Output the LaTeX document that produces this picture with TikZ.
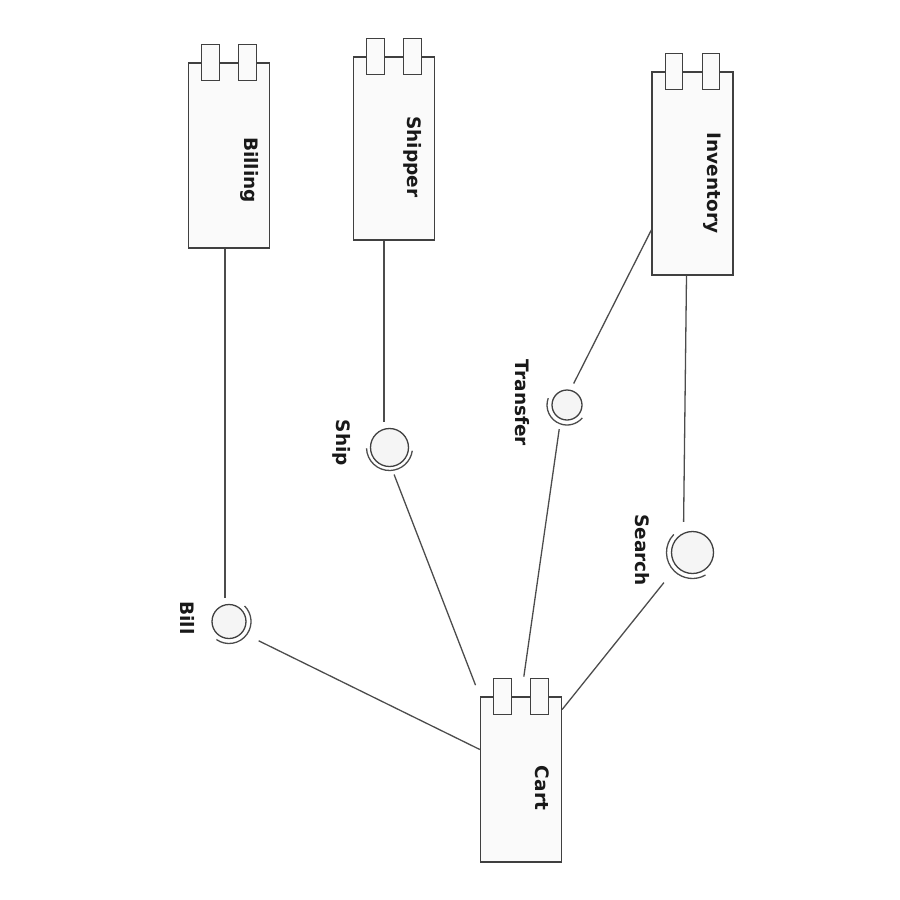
\documentclass[tikz,border=0pt]{standalone}
\usepackage{fontspec}
\setmainfont{DejaVu Sans}

\begin{document}
\begin{tikzpicture}[x=1pt, y=-1pt,
  font=\fontsize{18.5}{22}\selectfont\bfseries,
  wire/.style={black!70, line width=1.3pt},
  comp/.style={draw=black!75, line width=1.3pt, fill=black!2, rectangle, minimum width=81pt, inner sep=0pt},
  tab/.style={draw=black!75, line width=1.3pt, fill=black!2, rectangle, minimum width=17.5pt, minimum height=36pt, inner sep=0pt},
  ball/.style={draw=black!75, line width=1.3pt, fill=black!4, circle, inner sep=0pt},
  txt/.style={rotate=-90, inner sep=0pt, text=black!90}
]
\useasboundingbox (0,0) rectangle (900,900);

% components
\node[comp, minimum height=185pt] (billing) at (229,155.5) {};
\node[comp, minimum height=183pt] (shipper) at (394,148.5) {};
\node[comp, minimum height=203pt] (inventory) at (692.5,173.5) {};
\node[comp, minimum height=165pt] (cart) at (521,779.5) {};

% tabs
\foreach \c in {billing, shipper, inventory, cart} {
  \node[tab] (\c-tab1) at ([xshift=-18.5pt]\c.north) {};
  \node[tab] (\c-tab2) at ([xshift=18.5pt]\c.north) {};
}

\node[txt] (billingtxt) at (250,170) {Billing};
\node[txt] (shippertxt) at (413,157) {Shipper};
\node[txt] (inventorytxt) at (712,183) {Inventory};
\node[txt] (carttxt) at (542,788) {Cart};

% interfaces
\node[ball, minimum size=34pt] (bill) at (229,621.5) {};
\node[ball, minimum size=38pt] (ship) at (389.5,447.5) {};
\node[ball, minimum size=30pt] (transfer) at (567,405) {};
\node[ball, minimum size=42pt] (search) at (692.5,552.5) {};

% sockets
\draw[wire] (bill.center) ++(235:22pt) arc[start angle=235, end angle=405, radius=22pt];
\draw[wire] (ship.center) ++(182:23pt) arc[start angle=182, end angle=352, radius=23pt];
\draw[wire] (transfer.center) ++(160:20pt) arc[start angle=160, end angle=320, radius=20pt];
\draw[wire] (search.center) ++(136:26pt) arc[start angle=136, end angle=300, radius=26pt];

\node[txt] (billlbl) at (188,618) {Bill};
\node[txt] (shiplbl) at (342,443) {Ship};
\node[txt] (transferlbl) at (522,403) {Transfer};
\node[txt] (searchlbl) at (642,550) {Search};

% wires
\draw[wire, shorten >=6pt] ([xshift=-4pt]billing.south) -- ([xshift=-4pt]bill.north);
\draw[wire, shorten <=18pt] (bill.-40) -- ([yshift=30pt]cart.west);
\draw[wire, shorten >=6pt] ([xshift=-10pt]shipper.south) -- ([xshift=-5.5pt]ship.north);
\draw[wire, shorten <=8pt, shorten >=12pt] (ship.-85) -- (cart.north west);
\draw[wire, shorten >=7pt] ([yshift=-56.5pt]inventory.west) -- (transfer.77);
\draw[wire, shorten <=10pt, shorten >=20pt] (transfer.246) -- (cart.north);
\draw[wire, shorten >=9pt] ([xshift=-6pt]inventory.south) -- ([xshift=-9pt]search.north);
\draw[wire, shorten <=20pt] (search.222) -- ([yshift=70pt]cart.east);

\end{tikzpicture}
\end{document}
